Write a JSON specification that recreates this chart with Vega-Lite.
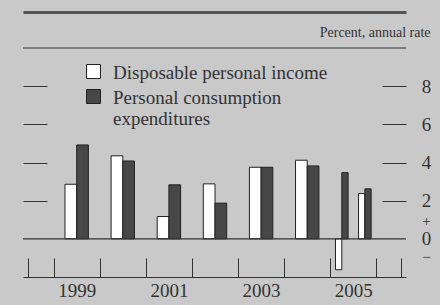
{
  "$schema": "https://vega.github.io/schema/vega-lite/v6.json",
  "width": 383,
  "height": 229,
  "autosize": "none",
  "padding": {"left": 23, "top": 48, "right": 34, "bottom": 28},
  "background": "#c9c9c9",
  "config": {"view": {"stroke": null}, "font": "Liberation Serif", "axis": {"grid": false}},
  "data": {
    "values": [
      {"t": 1999.5, "kind": "annual", "series": "Disposable personal income", "value": 2.86},
      {"t": 1999.5, "kind": "annual", "series": "Personal consumption expenditures", "value": 4.92},
      {"t": 2000.5, "kind": "annual", "series": "Disposable personal income", "value": 4.35},
      {"t": 2000.5, "kind": "annual", "series": "Personal consumption expenditures", "value": 4.08},
      {"t": 2001.5, "kind": "annual", "series": "Disposable personal income", "value": 1.17},
      {"t": 2001.5, "kind": "annual", "series": "Personal consumption expenditures", "value": 2.83},
      {"t": 2002.5, "kind": "annual", "series": "Disposable personal income", "value": 2.88},
      {"t": 2002.5, "kind": "annual", "series": "Personal consumption expenditures", "value": 1.87},
      {"t": 2003.5, "kind": "annual", "series": "Disposable personal income", "value": 3.75},
      {"t": 2003.5, "kind": "annual", "series": "Personal consumption expenditures", "value": 3.75},
      {"t": 2004.5, "kind": "annual", "series": "Disposable personal income", "value": 4.12},
      {"t": 2004.5, "kind": "annual", "series": "Personal consumption expenditures", "value": 3.82},
      {"t": 2005.25, "kind": "quarterly", "series": "Disposable personal income", "value": -1.62},
      {"t": 2005.25, "kind": "quarterly", "series": "Personal consumption expenditures", "value": 3.47},
      {"t": 2005.75, "kind": "quarterly", "series": "Disposable personal income", "value": 2.37},
      {"t": 2005.75, "kind": "quarterly", "series": "Personal consumption expenditures", "value": 2.62}
    ]
  },
  "layer": [
    {
      "transform": [{"filter": "datum.kind == 'annual' && datum.series == 'Disposable personal income'"}],
      "mark": {"type": "bar", "size": 11.7, "xOffset": -5.85, "stroke": "#222", "strokeWidth": 1},
      "encoding": {
        "x": {"field": "t", "type": "quantitative", "scale": {"domain": [1998.444, 2006.534], "nice": false, "zero": false},
          "axis": {"orient": "bottom", "values": [1998.444, 1999, 2000, 2001, 2002, 2003, 2004, 2005, 2006, 2006.534], "tickSize": -19, "tickColor": "#333", "tickWidth": 1, "domainColor": "#333", "domainWidth": 1.2, "labels": false, "title": null}},
        "y": {"field": "value", "type": "quantitative", "scale": {"domain": [-2, 10], "nice": false, "zero": false},
          "axis": {"orient": "right", "values": [2, 4, 6, 8], "tickSize": -24, "tickColor": "#333", "tickWidth": 1, "labels": false, "domain": false, "title": null}},
        "color": {"field": "series", "type": "nominal",
          "scale": {"domain": ["Disposable personal income", "Personal consumption expenditures"], "range": ["#ffffff", "#474747"]},
          "legend": {"orient": "none", "legendX": 61, "legendY": 14, "title": null, "symbolType": "square", "symbolSize": 196, "symbolStrokeColor": "#222", "symbolStrokeWidth": 1, "labelFontSize": 19, "labelColor": "#333", "labelFont": "Liberation Serif", "labelOffset": 10, "labelLimit": 400, "rowPadding": 4, "labelBaseline": "top", "labelLineHeight": 23,
            "labelExpr": "datum.label == 'Personal consumption expenditures' ? ['Personal consumption', 'expenditures'] : datum.label",
            "encode": {"labels": {"update": {"dy": {"value": -8}}}}}}
      }
    },
    {
      "transform": [{"filter": "datum.kind == 'annual' && datum.series == 'Personal consumption expenditures'"}],
      "mark": {"type": "bar", "size": 11.7, "xOffset": 5.85, "stroke": "#222", "strokeWidth": 1},
      "encoding": {
        "x": {"field": "t", "type": "quantitative", "scale": {"domain": [1998.444, 2006.534], "nice": false, "zero": false},
          "axis": {"orient": "bottom", "values": [1999.5, 2001.5, 2003.5, 2005.5], "ticks": false, "domain": false, "labelExpr": "floor(datum.value)", "labelFontSize": 19, "labelColor": "#333", "labelFont": "Liberation Serif", "labelPadding": 4, "labelOverlap": false, "title": null}},
        "y": {"field": "value", "type": "quantitative", "scale": {"domain": [-2, 10], "nice": false, "zero": false},
          "axis": {"orient": "right", "values": [-0.9, 0, 0.95, 2, 4, 6, 8], "ticks": false, "domain": false, "labelOverlap": false,
            "labelExpr": "datum.value > 0.5 && datum.value < 1.5 ? '+' : datum.value < 0 ? '−' : datum.label",
            "labelFontSize": {"condition": {"test": "datum.value < 1.5 && datum.value != 0", "value": 15}, "value": 19},
            "labelAlign": "center", "labelPadding": 20, "labelColor": "#333", "labelFont": "Liberation Serif",
            "title": "Percent, annual rate", "titleAngle": 0, "titleAlign": "right", "titleBaseline": "middle", "titleX": 24, "titleY": -16, "titleFontSize": 14, "titleFontWeight": "normal", "titleFont": "Liberation Serif", "titleColor": "#333"}},
        "color": {"field": "series", "type": "nominal"}
      }
    },
    {
      "transform": [{"filter": "datum.kind == 'quarterly' && datum.series == 'Disposable personal income'"}],
      "mark": {"type": "bar", "size": 6.3, "xOffset": -3.15, "stroke": "#222", "strokeWidth": 1},
      "encoding": {
        "x": {"field": "t", "type": "quantitative", "scale": {"domain": [1998.444, 2006.534], "nice": false, "zero": false},
          "axis": {"orient": "top", "offset": 36, "domainWidth": 3, "domainColor": "#555", "ticks": false, "labels": false, "title": null}},
        "y": {"field": "value", "type": "quantitative", "scale": {"domain": [-2, 10], "nice": false, "zero": false},
          "axis": {"orient": "left", "values": [2, 4, 6, 8], "tickSize": -24, "tickColor": "#333", "tickWidth": 1, "labels": false, "domain": false, "title": null}},
        "color": {"field": "series", "type": "nominal"}
      }
    },
    {
      "transform": [{"filter": "datum.kind == 'quarterly' && datum.series == 'Personal consumption expenditures'"}],
      "mark": {"type": "bar", "size": 6.3, "xOffset": 3.15, "stroke": "#222", "strokeWidth": 1},
      "encoding": {
        "x": {"field": "t", "type": "quantitative", "axis": null},
        "y": {"field": "value", "type": "quantitative", "axis": null},
        "color": {"field": "series", "type": "nominal"}
      }
    },
    {
      "data": {"values": [{"level": 0}]},
      "mark": {"type": "rule", "color": "#333", "strokeWidth": 1.2},
      "encoding": {"y": {"field": "level", "type": "quantitative", "axis": null}}
    },
    {
      "data": {"values": [{"level": 10}]},
      "mark": {"type": "rule", "color": "#333", "strokeWidth": 1.2},
      "encoding": {"y": {"field": "level", "type": "quantitative", "axis": null}}
    }
  ],
  "resolve": {"axis": {"x": "independent", "y": "independent"}}
}
